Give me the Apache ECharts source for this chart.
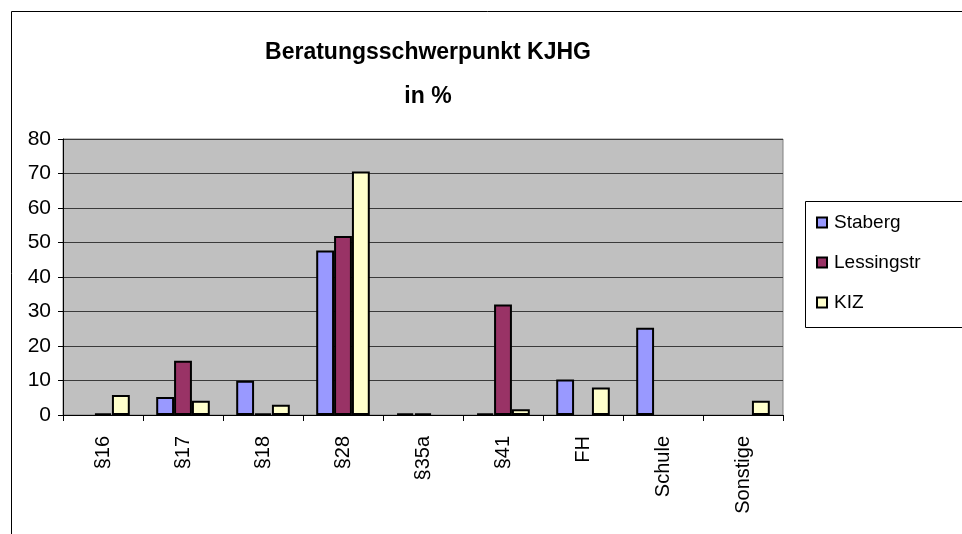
<!DOCTYPE html>
<html>
<head>
<meta charset="utf-8">
<script src="https://cdn.jsdelivr.net/npm/echarts@6/dist/echarts.min.js"></script>
<style>
  html, body { margin: 0; padding: 0; background: #fff; }
  #chart { width: 962px; height: 534px; }
</style>
</head>
<body>
<div id="chart"></div>
<script>
// Kategorien und Werte (in %)
var categories = ['§16', '§17', '§18', '§28', '§35a', '§41', 'FH', 'Schule', 'Sonstige'];
var staberg    = [0,   5.2, 9.9, 47.7, 0.5, 0.5, 10.3, 25.3, 0];
var lessingstr = [0.5, 15.7, 0.5, 51.9, 0.5, 32.0, 0,  0,    0];
var kiz        = [5.8, 4.1, 3.0, 70.6, 0,   1.7, 8.0,  0,    4.1];
var yTicks = [0, 10, 20, 30, 40, 50, 60, 70, 80];

var myChart = echarts.init(document.getElementById('chart'));
var font = '"Liberation Sans", Arial, sans-serif';

// 0 wird gar nicht gezeichnet (sonst bleibt ein Rahmenstrich stehen)
function bar(name, data, color) {
  return {
    name: name,
    type: 'bar',
    data: data.map(function (v) { return v === 0 ? null : v; }),
    barGap: '0%',
    barCategoryGap: '33%',
    itemStyle: { color: color, borderColor: '#000', borderWidth: 2 },
    emphasis: { disabled: true }
  };
}

var option = {
  backgroundColor: '#fff',
  animation: false,
  title: {
    text: 'Beratungsschwerpunkt KJHG\nin %',
    left: 423,
    top: 26,
    textAlign: 'center',
    textStyle: { fontFamily: font, fontSize: 23, fontWeight: 'bold', color: '#000', lineHeight: 44 }
  },
  legend: {
    orient: 'vertical',
    left: 811,
    top: 208,
    itemWidth: 10,
    itemHeight: 10,
    itemGap: 21,
    icon: 'rect',
    textStyle: { fontFamily: font, fontSize: 19, color: '#000', padding: [0, 0, 0, 2] },
    data: ['Staberg', 'Lessingstr', 'KIZ']
  },
  grid: {
    left: 63,
    right: 179,
    top: 139,
    bottom: 119,
    show: true,
    backgroundColor: '#C0C0C0',
    borderColor: '#808080',
    borderWidth: 1
  },
  xAxis: {
    type: 'category',
    data: categories,
    axisLine: { lineStyle: { color: '#000', width: 1 } },
    axisTick: { show: true, length: 6, lineStyle: { color: '#000' } },
    axisLabel: { rotate: 90, margin: 21, fontFamily: font, fontSize: 20, color: '#000' }
  },
  yAxis: {
    type: 'value',
    min: yTicks[0],
    max: yTicks[yTicks.length - 1],
    interval: 10,
    axisLine: { show: true, lineStyle: { color: '#000', width: 1 } },
    axisTick: { show: true, length: 5, lineStyle: { color: '#000' } },
    axisLabel: { margin: 12, fontFamily: font, fontSize: 21, color: '#000' },
    splitLine: { lineStyle: { color: '#3a3a3a', width: 1 } }
  },
  graphic: [
    { // Rahmen um das ganze Diagramm
      type: 'rect', left: 9, top: 9, z: -1,
      shape: { width: 1000, height: 600 },
      style: { fill: null, stroke: '#000', lineWidth: 1 }
    },
    { // Rahmen um die Legende
      type: 'rect', left: 805, top: 201, z: 0,
      shape: { width: 170, height: 126 },
      style: { fill: '#fff', stroke: '#000', lineWidth: 1 }
    }
  ],
  series: [
    bar('Staberg', staberg, '#9999FF'),
    bar('Lessingstr', lessingstr, '#993366'),
    bar('KIZ', kiz, '#FFFFCC')
  ]
};

myChart.setOption(option);
</script>
</body>
</html>
